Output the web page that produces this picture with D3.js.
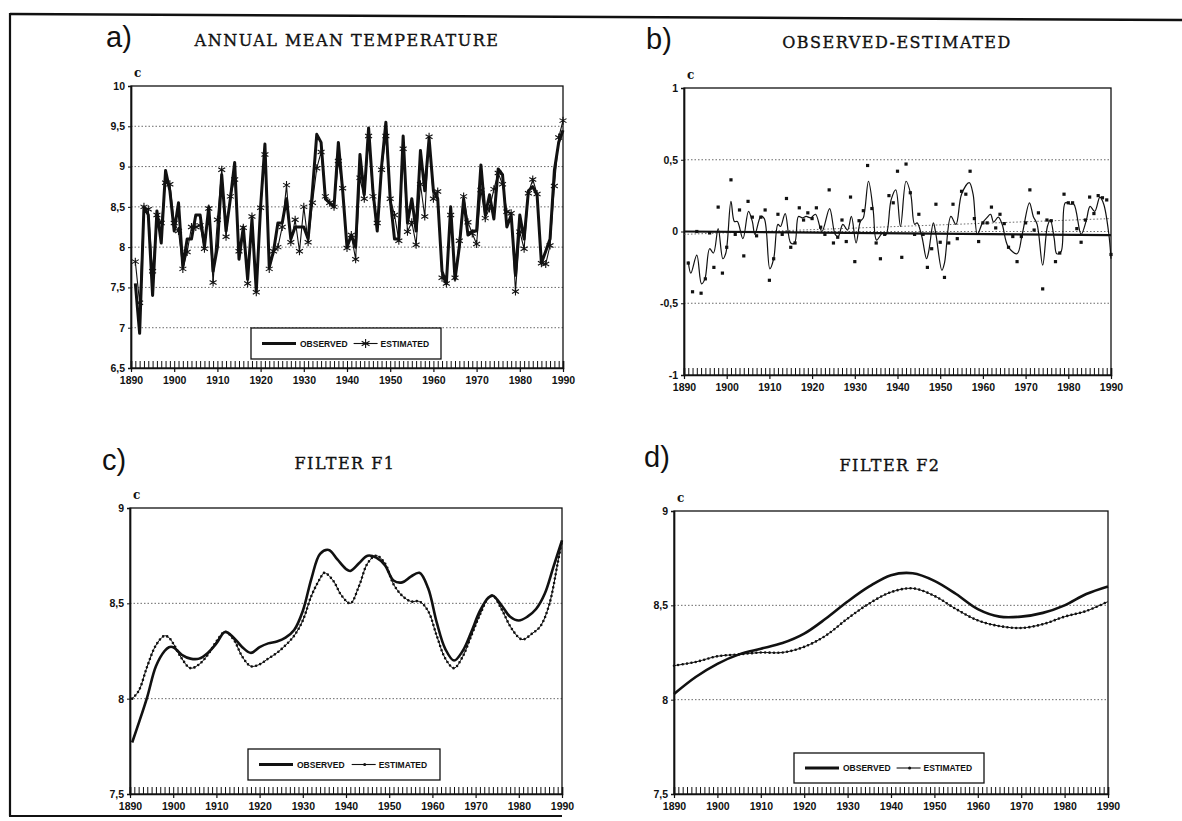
<!DOCTYPE html>
<html>
<head>
<meta charset="utf-8">
<script src="https://cdn.jsdelivr.net/npm/d3@7"></script>
<style>
  html, body { margin: 0; padding: 0; background: #fff; }
  svg { display: block; }
</style>
</head>
<body>
<svg id="fig" width="1182" height="821"></svg>
<script>
// ---- data ----
const yearsA = d3.range(1891, 1991);

// a) annual mean temperature, observed and estimated (C)
const observedA = [
  7.55, 6.93, 8.50, 8.40, 7.40, 8.45, 8.05, 8.95, 8.70, 8.20,
  8.55, 7.75, 8.10, 8.10, 8.40, 8.40, 8.00, 8.50, 7.70, 8.00,
  8.90, 8.20, 8.60, 9.05, 7.85, 8.25, 7.60, 8.35, 7.45, 8.50,
  9.28, 7.75, 7.95, 8.30, 8.30, 8.60, 8.10, 8.25, 8.25, 8.25,
  8.10, 8.70, 9.40, 9.30, 8.60, 8.55, 8.50, 9.30, 8.70, 8.00,
  8.15, 8.00, 9.15, 8.65, 9.48, 8.70, 8.20, 9.00, 9.55, 8.60,
  8.10, 8.10, 9.38, 8.30, 8.60, 8.20, 9.20, 8.70, 9.35, 8.70,
  8.60, 7.70, 7.55, 8.50, 7.60, 8.00, 8.60, 8.15, 8.20, 8.20,
  9.02, 8.40, 8.65, 8.35, 8.97, 8.90, 8.25, 8.40, 7.65, 8.40,
  8.10, 8.70, 8.75, 8.65, 7.80, 7.95, 8.10, 8.95, 9.30, 9.45
];
const estimatedA = [
  7.82, 7.31, 8.50, 8.47, 7.70, 8.40, 8.30, 8.80, 8.78, 8.30,
  8.20, 7.73, 7.94, 8.25, 8.25, 8.27, 7.98, 8.48, 7.56, 8.34,
  8.96, 8.13, 8.63, 8.84, 7.95, 8.24, 7.55, 8.38, 7.44, 8.49,
  9.15, 7.73, 7.95, 8.00, 8.25, 8.77, 8.06, 8.34, 7.95, 8.50,
  8.06, 8.55, 8.98, 9.18, 8.63, 8.55, 8.50, 9.07, 8.73, 7.99,
  8.15, 7.85, 8.86, 8.60, 9.38, 8.63, 8.30, 8.96, 9.38, 8.60,
  8.40, 8.08, 9.22, 8.19, 8.31, 8.03, 8.78, 8.38, 9.37, 8.60,
  8.69, 7.62, 7.55, 8.40, 7.62, 8.08, 8.63, 8.31, 8.17, 8.04,
  8.71, 8.36, 8.48, 8.72, 8.92, 8.78, 8.44, 8.42, 7.45, 8.19,
  7.98, 8.67, 8.84, 8.66, 7.80, 7.79, 8.02, 8.76, 9.36, 9.57
];

// b) observed - estimated: yearly residual dots
const residualB = [
  -0.22, -0.42, 0.00, -0.43, -0.33, -0.01, -0.25, 0.17, -0.29, -0.11,
  0.36, -0.02, 0.15, -0.17, 0.21, 0.10, -0.03, 0.10, 0.15, -0.34,
  -0.19, 0.12, -0.02, 0.23, -0.11, -0.08, 0.165, 0.08, 0.13, 0.09,
  0.165, 0.03, -0.02, 0.29, -0.08, -0.04, 0.08, -0.07, 0.24, -0.21,
  0.075, 0.145, 0.46, 0.16, -0.08, -0.19, -0.02, 0.25, 0.20, 0.42,
  -0.18, 0.47, 0.27, -0.02, 0.12, -0.02, -0.25, -0.12, 0.19, -0.075,
  -0.32, -0.08, 0.19, -0.05, 0.28, 0.26, 0.42, 0.09, -0.07, 0.06,
  0.06, 0.17, 0.025, 0.12, 0.055, -0.11, -0.035, -0.21, -0.035, 0.06,
  0.29, 0.01, 0.13, -0.40, 0.08, 0.075, -0.21, -0.15, 0.26, 0.20,
  0.20, 0.02, -0.075, 0.08, 0.24, 0.125, 0.25, 0.235, 0.22, -0.16
];
// b) smoothed residual curve (positions in years)
const smoothYearsB = [
  1891.0, 1891.6, 1893.0, 1894.1, 1894.9, 1896.0, 1896.9, 1898.0, 1899.1, 1899.8,
  1901.0, 1901.8, 1902.5, 1903.8, 1905.1, 1906.0, 1906.6, 1908.0, 1908.8, 1910.1,
  1911.0, 1912.0, 1912.6, 1913.7, 1915.0, 1915.9, 1916.8, 1917.7, 1918.6, 1919.7,
  1920.8, 1922.3, 1924.1, 1925.4, 1926.1, 1927.2, 1928.3, 1929.2, 1930.3, 1931.3,
  1932.0, 1933.2, 1934.3, 1935.1, 1936.5, 1937.3, 1938.5, 1939.6, 1940.7, 1942.0,
  1943.1, 1944.0, 1944.6, 1945.7, 1946.8, 1947.3, 1948.4, 1949.0, 1950.4, 1951.0,
  1952.5, 1953.7, 1955.0, 1956.8, 1957.7, 1958.7, 1959.9, 1960.9, 1961.8, 1962.5,
  1963.6, 1964.5, 1965.9, 1968.0, 1969.2, 1970.9, 1971.8, 1972.7, 1974.0, 1975.1,
  1975.8, 1976.7, 1977.3, 1978.3, 1979.3, 1980.5, 1981.3, 1983.0, 1984.2, 1985.1,
  1986.2, 1987.4, 1988.3, 1989.5, 1990.0
];
const smoothValsB = [
  -0.21, -0.29, -0.165, -0.365, -0.33, -0.12, -0.15, 0.02, -0.19, -0.15,
  0.21, 0.07, 0.07, -0.05, 0.14, 0.07, -0.02, 0.105, 0.09, -0.26,
  -0.19, 0.05, 0.035, 0.125, -0.08, -0.08, 0.105, 0.095, 0.105, 0.095,
  0.12, 0.0, 0.16, -0.02, -0.035, 0.05, 0.01, 0.105, -0.08, 0.07,
  0.095, 0.35, 0.15, -0.06, -0.01, -0.02, 0.22, 0.29, 0.035, 0.35,
  0.26, 0.05, 0.06, -0.035, -0.19, -0.14, 0.06, -0.02, -0.27, -0.22,
  0.105, 0.05, 0.26, 0.34, 0.26, -0.02, 0.06, 0.095, 0.12, 0.065,
  0.10, 0.05, -0.105, -0.155, -0.02, 0.20, 0.105, 0.05, -0.235, 0.035,
  0.08, -0.05, -0.155, -0.14, 0.20, 0.19, 0.19, -0.02, 0.075, 0.175,
  0.14, 0.24, 0.19, -0.02, -0.19
];
// b) straight reference lines (end points 1890 / 1990)
const trendEnds = [1890, 1990];
const trendSolidB = [0.0, -0.025];
const trendDottedB = [-0.02, 0.09];

// c) filter F1
const yearsC = [
  1890.5, 1892, 1894, 1896, 1898, 1899, 1900, 1902, 1904, 1906, 1908, 1910,
  1912, 1914, 1916, 1918, 1920, 1922, 1924, 1926, 1928, 1930, 1932, 1934,
  1936, 1938, 1940, 1941, 1943, 1945, 1947, 1949, 1951, 1953, 1955, 1957,
  1959, 1961, 1963, 1965, 1967, 1969, 1971, 1973, 1974, 1976, 1978, 1980,
  1982, 1984, 1986, 1988, 1990
];
const observedC = [
  7.77, 7.87, 8.01, 8.17, 8.25, 8.27, 8.27, 8.23, 8.21, 8.21, 8.24, 8.29,
  8.35, 8.32, 8.27, 8.24, 8.27, 8.29, 8.30, 8.32, 8.36, 8.46, 8.63, 8.76,
  8.78, 8.73, 8.68, 8.67, 8.71, 8.75, 8.74, 8.70, 8.62, 8.61, 8.64, 8.66,
  8.58, 8.40, 8.26, 8.20, 8.25, 8.35, 8.46, 8.53, 8.54, 8.49, 8.43, 8.41,
  8.43, 8.47, 8.55, 8.69, 8.83
];
const yearsCest = [
  1890.5, 1892, 1894, 1896, 1898, 1899, 1900, 1902, 1904, 1906, 1908, 1910,
  1912, 1914, 1916, 1918, 1920, 1922, 1924, 1926, 1928, 1930, 1932, 1934,
  1935, 1937, 1939, 1941, 1943, 1945, 1947, 1949, 1951, 1953, 1955, 1957,
  1959, 1961, 1963, 1965, 1967, 1969, 1971, 1973, 1974, 1976, 1978, 1980,
  1981, 1983, 1985, 1987, 1989, 1990
];
const estimatedC = [
  8.00, 8.04, 8.17, 8.28, 8.33, 8.32, 8.29, 8.21, 8.16, 8.18, 8.23, 8.30,
  8.35, 8.31, 8.22, 8.17, 8.18, 8.21, 8.24, 8.28, 8.33, 8.41, 8.54, 8.63,
  8.66, 8.62, 8.54, 8.50, 8.59, 8.71, 8.75, 8.71, 8.60, 8.54, 8.51, 8.51,
  8.46, 8.33, 8.21, 8.16, 8.22, 8.33, 8.44, 8.53, 8.54, 8.47, 8.38, 8.32,
  8.31, 8.34, 8.38, 8.49, 8.71, 8.83
];

// d) filter F2
const yearsD = [1890, 1895, 1900, 1905, 1910, 1915, 1920, 1925, 1930, 1935, 1940,
                1945, 1950, 1955, 1960, 1965, 1970, 1975, 1980, 1985, 1990];
const observedD = [8.03, 8.12, 8.19, 8.24, 8.27, 8.30, 8.35, 8.43, 8.52, 8.60, 8.66,
                   8.67, 8.63, 8.56, 8.48, 8.44, 8.44, 8.46, 8.50, 8.56, 8.60];
const estimatedD = [8.18, 8.20, 8.23, 8.24, 8.25, 8.25, 8.28, 8.34, 8.43, 8.51, 8.57,
                    8.59, 8.55, 8.48, 8.42, 8.39, 8.38, 8.40, 8.44, 8.47, 8.52];

// axis ticks
const decadeTicks = [1890, 1900, 1910, 1920, 1930, 1940, 1950, 1960, 1970, 1980, 1990];
const yTicksA = [6.5, 7, 7.5, 8, 8.5, 9, 9.5, 10];
const yTicksB = [-1, -0.5, 0, 0.5, 1];
const yTicksCD = [7.5, 8, 8.5, 9];

// ---- drawing ----
const svg = d3.select('#fig');
const ink = '#111';
const tickFont = '"Liberation Sans", Arial, sans-serif';
const fmt = d => String(d).replace('.', ',');

// outer border of the scanned page
svg.append('line').attr('x1', 10).attr('y1', 14).attr('x2', 1182).attr('y2', 20)
  .attr('stroke', ink).attr('stroke-width', 2.5);
svg.append('line').attr('x1', 10).attr('y1', 13).attr('x2', 10).attr('y2', 816)
  .attr('stroke', ink).attr('stroke-width', 2.2);
svg.append('line').attr('x1', 9).attr('y1', 816).attr('x2', 562).attr('y2', 816)
  .attr('stroke', ink).attr('stroke-width', 2.2);

function drawPanel(p) {
  const g = svg.append('g');
  const x = d3.scaleLinear().domain([1890, 1990]).range([p.x0, p.x1]);
  const y = d3.scaleLinear().domain([p.yTicks[0], p.yTicks[p.yTicks.length - 1]]).range([p.y1, p.y0]);

  // dotted grid
  g.append('g').selectAll('line')
    .data(p.yTicks.slice(1, -1))
    .join('line')
    .attr('x1', p.x0).attr('x2', p.x1)
    .attr('y1', d => y(d)).attr('y2', d => y(d))
    .attr('stroke', '#444').attr('stroke-width', 0.8)
    .attr('stroke-dasharray', '1.5,2');

  // frame
  g.append('rect')
    .attr('x', p.x0).attr('y', p.y0)
    .attr('width', p.x1 - p.x0).attr('height', p.y1 - p.y0)
    .attr('fill', 'none').attr('stroke', ink).attr('stroke-width', 1.3);

  // y axis
  g.append('g')
    .attr('transform', `translate(${p.x0},0)`)
    .call(d3.axisLeft(y).tickValues(p.yTicks).tickSize(3).tickPadding(3).tickFormat(fmt))
    .call(a => a.select('.domain').attr('stroke', ink).attr('stroke-width', 1.7))
    .call(a => a.selectAll('line').attr('stroke', ink))
    .call(a => a.selectAll('text')
      .attr('fill', ink)
      .style('font-family', tickFont)
      .style('font-weight', 'bold')
      .style('font-size', '10.5px'));

  // yearly minor ticks inside the bottom edge
  g.append('g')
    .attr('transform', `translate(0,${p.y1})`)
    .call(d3.axisBottom(x).tickValues(d3.range(1890, 1991)).tickSize(-7).tickFormat(''))
    .call(a => a.select('.domain').attr('stroke', ink).attr('stroke-width', 1.7))
    .call(a => a.selectAll('line').attr('stroke', ink).attr('stroke-width', 1));

  // decade ticks and labels
  g.append('g')
    .attr('transform', `translate(0,${p.y1})`)
    .call(d3.axisBottom(x).tickValues(decadeTicks).tickSize(4).tickPadding(5).tickFormat(d3.format('d')))
    .call(a => a.select('.domain').remove())
    .call(a => a.selectAll('line').attr('stroke', ink).attr('stroke-width', 1.2))
    .call(a => a.selectAll('text')
      .attr('fill', ink)
      .style('font-family', tickFont)
      .style('font-weight', 'bold')
      .style('font-size', '10.5px'));

  // unit label
  g.append('text')
    .attr('x', p.x0 + 3).attr('y', p.y0 - 9)
    .attr('fill', ink)
    .style('font-family', '"DejaVu Serif", serif')
    .style('font-weight', 'bold')
    .style('font-size', '12px')
    .text('c');

  // title
  g.append('text')
    .attr('x', p.titleX).attr('y', p.titleY)
    .attr('text-anchor', 'middle')
    .attr('fill', ink)
    .attr('stroke', ink).attr('stroke-width', 0.35)
    .style('font-family', '"DejaVu Serif", serif')
    .style('font-size', '16px')
    .style('letter-spacing', '1.5px')
    .text(p.title);

  // panel letter
  g.append('text')
    .attr('x', p.letterX).attr('y', p.letterY)
    .attr('fill', ink)
    .style('font-family', '"Liberation Sans", sans-serif')
    .style('font-weight', '300')
    .style('font-size', '29px')
    .text(p.letter);

  return { g, x, y };
}

function asteriskPath(r) {
  const a = r * 0.87, b = r * 0.5;
  return `M0,${-r}L0,${r}M${-a},${-b}L${a},${b}M${-a},${b}L${a},${-b}`;
}

function drawLegend(g, box, estKind) {
  const lg = g.append('g');
  lg.append('rect')
    .attr('x', box.x).attr('y', box.y).attr('width', box.w).attr('height', box.h)
    .attr('fill', '#fff').attr('stroke', ink).attr('stroke-width', 1.3);
  const cy = box.y + box.h / 2;
  const s = box.x + 11;
  lg.append('line').attr('x1', s).attr('x2', s + 34).attr('y1', cy).attr('y2', cy)
    .attr('stroke', ink).attr('stroke-width', 3);
  lg.append('text').attr('x', s + 38).attr('y', cy + 3)
    .attr('fill', ink)
    .style('font-family', '"Liberation Sans Narrow", "Liberation Sans", sans-serif')
    .style('font-weight', 'bold').style('font-size', '8.5px')
    .text('OBSERVED');
  const e = box.x + box.w * 0.54;
  lg.append('line').attr('x1', e).attr('x2', e + 24).attr('y1', cy).attr('y2', cy)
    .attr('stroke', ink).attr('stroke-width', 1.1);
  if (estKind === 'asterisk') {
    lg.append('path').attr('d', asteriskPath(4.5))
      .attr('transform', `translate(${e + 12},${cy})`)
      .attr('fill', 'none').attr('stroke', ink).attr('stroke-width', 1.1);
  } else {
    lg.append('circle').attr('cx', e + 13).attr('cy', cy).attr('r', 1.5).attr('fill', ink);
  }
  lg.append('text').attr('x', e + 27).attr('y', cy + 3)
    .attr('fill', ink)
    .style('font-family', '"Liberation Sans Narrow", "Liberation Sans", sans-serif')
    .style('font-weight', 'bold').style('font-size', '8.5px')
    .text('ESTIMATED');
}

// ---- a) annual mean temperature ----
{
  const { g, x, y } = drawPanel({
    x0: 131, x1: 563, y0: 86, y1: 368, yTicks: yTicksA,
    title: 'ANNUAL MEAN TEMPERATURE', titleX: 347, titleY: 46,
    letter: 'a)', letterX: 106, letterY: 47
  });
  const line = d3.line().x((d, i) => x(yearsA[i])).y(d => y(d));
  g.append('path').datum(estimatedA).attr('d', line)
    .attr('fill', 'none').attr('stroke', ink).attr('stroke-width', 1.1);
  g.append('path').datum(observedA).attr('d', line)
    .attr('fill', 'none').attr('stroke', ink).attr('stroke-width', 3).attr('stroke-linejoin', 'round');
  g.append('g').selectAll('path')
    .data(estimatedA)
    .join('path')
    .attr('d', asteriskPath(4))
    .attr('transform', (d, i) => `translate(${x(yearsA[i])},${y(d)})`)
    .attr('fill', 'none').attr('stroke', ink).attr('stroke-width', 1.1);
  drawLegend(g, { x: 251, y: 328, w: 190, h: 31 }, 'asterisk');
}

// ---- b) observed - estimated ----
{
  const { g, x, y } = drawPanel({
    x0: 684, x1: 1111, y0: 88, y1: 375, yTicks: yTicksB,
    title: 'OBSERVED-ESTIMATED', titleX: 897, titleY: 48,
    letter: 'b)', letterX: 646, letterY: 49
  });
  g.append('line')
    .attr('x1', x(trendEnds[0])).attr('x2', x(trendEnds[1]))
    .attr('y1', y(trendDottedB[0])).attr('y2', y(trendDottedB[1]))
    .attr('stroke', '#444').attr('stroke-width', 0.8).attr('stroke-dasharray', '1.5,2');
  g.append('line')
    .attr('x1', x(trendEnds[0])).attr('x2', x(trendEnds[1]))
    .attr('y1', y(trendSolidB[0])).attr('y2', y(trendSolidB[1]))
    .attr('stroke', ink).attr('stroke-width', 2.2);
  const smooth = d3.line()
    .x((d, i) => x(smoothYearsB[i])).y(d => y(d))
    .curve(d3.curveCatmullRom.alpha(0.5));
  g.append('path').datum(smoothValsB).attr('d', smooth)
    .attr('fill', 'none').attr('stroke', ink).attr('stroke-width', 1.2);
  g.append('g').selectAll('rect')
    .data(residualB)
    .join('rect')
    .attr('x', (d, i) => x(yearsA[i]) - 1.6).attr('y', d => y(d) - 1.6)
    .attr('width', 3.2).attr('height', 3.2)
    .attr('fill', ink);
}

function drawFilterPanel(p, obsYears, obsVals, estYears, estVals) {
  const { g, x, y } = drawPanel(p);
  const lineObs = d3.line().x((d, i) => x(obsYears[i])).y(d => y(d)).curve(d3.curveCatmullRom.alpha(0.5));
  const lineEst = d3.line().x((d, i) => x(estYears[i])).y(d => y(d)).curve(d3.curveCatmullRom.alpha(0.5));
  g.append('path').datum(estVals).attr('d', lineEst)
    .attr('fill', 'none').attr('stroke', ink).attr('stroke-width', 1);
  // small year markers along the estimated curve
  g.append('path').datum(estVals).attr('d', lineEst)
    .attr('fill', 'none').attr('stroke', ink).attr('stroke-width', 2.6)
    .attr('stroke-linecap', 'round').attr('stroke-dasharray', '0,4.4');
  g.append('path').datum(obsVals).attr('d', lineObs)
    .attr('fill', 'none').attr('stroke', ink).attr('stroke-width', 2.6);
  drawLegend(g, p.legend, 'dot');
}

// ---- c) filter F1 ----
drawFilterPanel({
  x0: 130, x1: 562, y0: 508, y1: 794, yTicks: yTicksCD,
  title: 'FILTER F1', titleX: 345, titleY: 469,
  letter: 'c)', letterX: 102, letterY: 470,
  legend: { x: 248, y: 749, w: 192, h: 31 }
}, yearsC, observedC, yearsCest, estimatedC);

// ---- d) filter F2 ----
drawFilterPanel({
  x0: 674, x1: 1108, y0: 511, y1: 794, yTicks: yTicksCD,
  title: 'FILTER F2', titleX: 890, titleY: 471,
  letter: 'd)', letterX: 644, letterY: 467,
  legend: { x: 794, y: 753, w: 190, h: 30 }
}, yearsD, observedD, yearsD, estimatedD);
</script>
</body>
</html>
